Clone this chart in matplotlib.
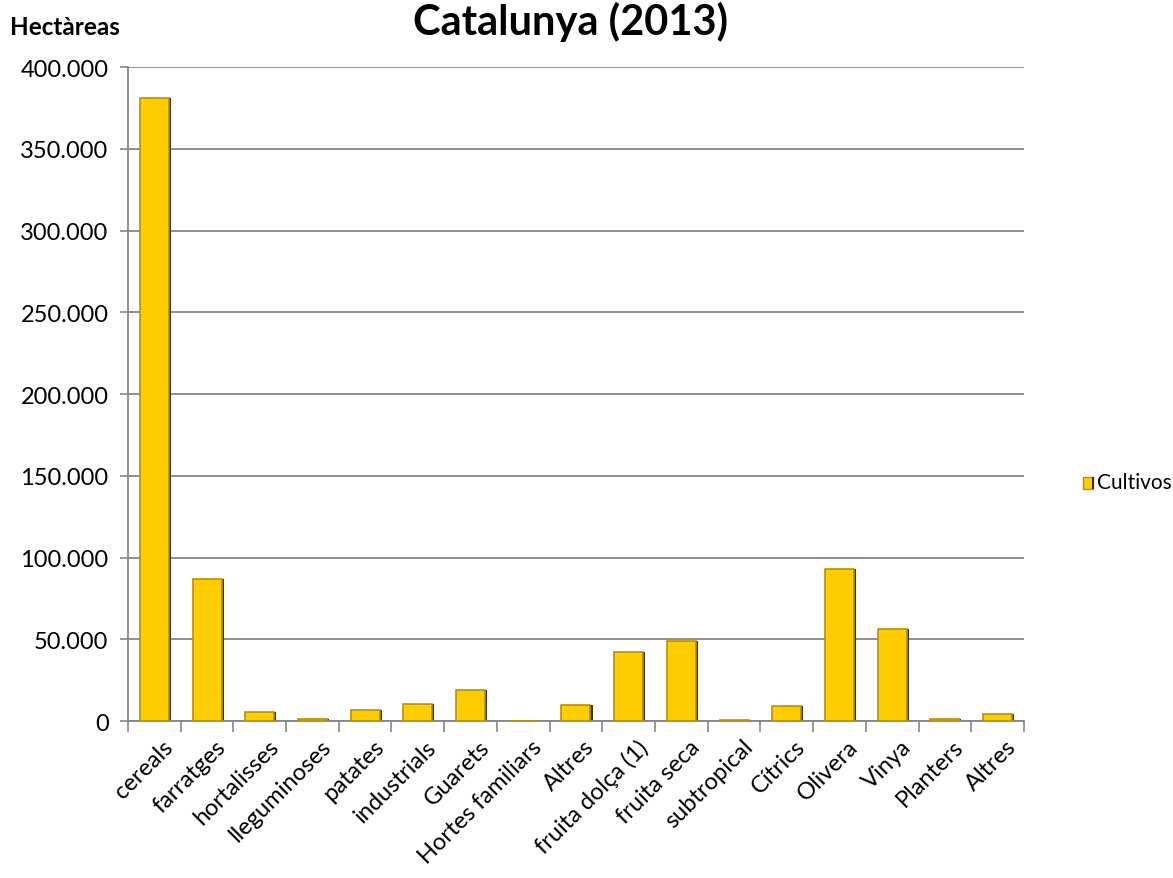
import numpy as np
import matplotlib.pyplot as plt
from matplotlib.ticker import FuncFormatter, FixedLocator, NullFormatter
from matplotlib.patches import Rectangle

plt.rcParams['font.family'] = ['Lato', 'DejaVu Sans']

# superfície per conreu, hectàrees
cultius = ['cereals', 'farratges', 'hortalisses', 'lleguminoses', 'patates',
           'industrials', 'Guarets', 'Hortes familiars', 'Altres',
           'fruita dolça (1)', 'fruita seca', 'subtropical', 'Cítrics',
           'Olivera', 'Vinya', 'Planters', 'Altres']
hectarees = [381000, 87000, 5700, 1400, 6900, 10400, 19000, 100, 10000,
             42000, 49100, 400, 9200, 93000, 56500, 1200, 4300]

groc = '#FFCC00'
vora = '#B8900A'
ombra = '#3A2E05'
gris = '#868686'

fig = plt.figure(figsize=(11.73, 8.79), dpi=100)
ax = fig.add_axes([0.1091, 0.1786, 0.7638, 0.744])

x = np.arange(len(cultius))
amplada = 0.55
# ombra fosca a la dreta de cada barra
ax.bar(x + 0.04, hectarees, width=amplada, color=ombra, zorder=2)
ax.bar(x, hectarees, width=amplada, color=groc, edgecolor=vora,
       linewidth=1.2, zorder=3)

ax.set_xlim(-0.5, len(cultius) - 0.5)
ax.set_ylim(0, 400000)
ax.set_yticks(np.arange(0, 400001, 50000))
ax.yaxis.set_major_formatter(FuncFormatter(
    lambda v, p: '0' if v == 0 else f'{int(v):,}'.replace(',', '.')))
ax.grid(axis='y', color=gris, linewidth=1.3, zorder=0)
ax.set_axisbelow(True)

# marques de l'eix x entre categories
ax.xaxis.set_major_locator(FixedLocator(np.arange(-0.5, len(cultius), 1.0)))
ax.xaxis.set_major_formatter(NullFormatter())
ax.tick_params(axis='x', length=8, width=1.2, color=gris)
ax.tick_params(axis='y', length=6, width=1.2, color=gris, labelsize=17,
               pad=8)
for i, nom in enumerate(cultius):
    ax.text(i + 0.15, -9000, nom, rotation=45, ha='right', va='top',
            rotation_mode='anchor', fontsize=17)

for s in ['top', 'right']:
    ax.spines[s].set_visible(False)
for s in ['left', 'bottom']:
    ax.spines[s].set_color(gris)
    ax.spines[s].set_linewidth(1.3)

fig.text(0.486, 0.998, 'Catalunya (2013)', ha='center', va='top',
         fontsize=30, fontweight='bold')
fig.text(0.0085, 0.969, 'Hectàreas', ha='left', va='center',
         fontsize=17.5, fontweight='bold')

# llegenda
fig.patches.append(Rectangle((1083 / 1173, 1 - 490 / 879), 10 / 1173,
                             12 / 879, transform=fig.transFigure,
                             facecolor=groc, edgecolor=vora, linewidth=1))
fig.patches.append(Rectangle((1092 / 1173, 1 - 490 / 879), 2 / 1173,
                             12 / 879, transform=fig.transFigure,
                             facecolor=ombra, edgecolor='none'))
fig.text(1097 / 1173, 1 - 483 / 879, 'Cultivos', ha='left', va='center',
         fontsize=15)

fig.savefig('out.png', dpi=100)
